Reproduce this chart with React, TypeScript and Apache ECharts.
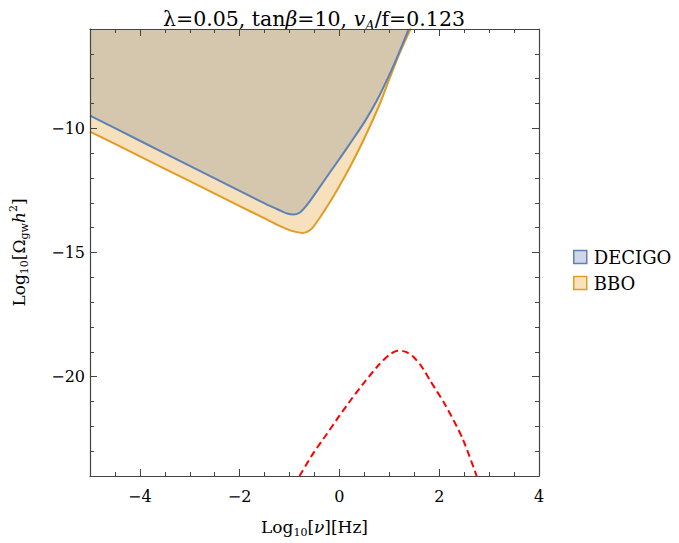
import React, { useEffect, useRef } from "react";
import * as echarts from "echarts";

// Tick values
const xMajorTicks = [-4, -2, 0, 2, 4];
const yMajorTicks = [-20, -15, -10];

// DECIGO sensitivity curve (log10 f, log10 Ωh²)
const decigoX = [-5, -4, -3, -2, -1.5, -1.2, -1.05, -0.92, -0.8, -0.7, -0.6, -0.4, -0.2, 0, 0.25, 0.5, 0.75, 1.0, 1.2, 1.39];
const decigoY = [-9.49, -10.5, -11.51, -12.52, -13.02, -13.3, -13.43, -13.47, -13.4, -13.2, -12.95, -12.38, -11.8, -11.23, -10.5, -9.75, -8.88, -7.85, -6.93, -6.0];

// BBO sensitivity curve
const bboX = [-5, -4, -3, -2, -1.5, -1.2, -1.0, -0.85, -0.75, -0.65, -0.55, -0.4, -0.2, 0, 0.2, 0.5, 0.8, 1.0, 1.2, 1.43];
const bboY = [-10.13, -11.13, -12.13, -13.13, -13.63, -13.93, -14.1, -14.18, -14.21, -14.17, -14.03, -13.62, -13.0, -12.32, -11.6, -10.4, -9.06, -8.02, -7.0, -5.98];

// GW signal spectrum (red dashed)
const signalX = [-0.8, -0.53, -0.25, 0, 0.25, 0.53, 0.8, 1.0, 1.17, 1.33, 1.47, 1.65, 1.8, 2.13, 2.47, 2.75];
const signalY = [-24, -23.1, -22.3, -21.57, -20.88, -20.15, -19.5, -19.12, -18.96, -19.0, -19.18, -19.6, -20.1, -21.17, -22.5, -24];

const FONT = "DejaVu Serif";
const zip = (xs: number[], ys: number[]) => xs.map((x, i) => [x, ys[i]]);
const minus = (v: number) => (v < 0 ? "\u2212" + Math.abs(v) : String(v));

export default function App() {
  const ref = useRef<HTMLDivElement>(null);
  useEffect(() => {
    document.body.style.margin = "0";
    const chart = echarts.init(ref.current!, null, { renderer: "svg" });
    const axisColor = "#444";
    const baseX = { type: "value", min: -5, max: 4, z: 10, splitLine: { show: false } };
    const baseY = { type: "value", min: -24, max: -6, z: 10, splitLine: { show: false } };
    const txt = { fontFamily: FONT, color: "#000", fontWeight: "normal" };
    const richMain = {
      n: { ...txt, fontSize: 17, lineHeight: 22, verticalAlign: "middle" },
      i: { ...txt, fontSize: 17, fontStyle: "italic", lineHeight: 22, verticalAlign: "middle" },
      s: { ...txt, fontSize: 11, lineHeight: 11, verticalAlign: "bottom" },
      sup: { ...txt, fontSize: 11, lineHeight: 11, verticalAlign: "top" },
    };
    const line = (show: boolean) => ({ show, onZero: false, lineStyle: { color: axisColor, width: 1.2 } });
    const tick = (length: number, customValues?: number[]) => ({
      show: true, inside: true, length, lineStyle: { color: axisColor, width: 1 },
      ...(customValues ? { customValues } : {}),
    });
    const option: any = {
      animation: false,
      title: {
        text: "{n|λ=0.05, tan}{i|β}{n|=10, }{i|v}{si|A}{n|/f=0.123}",
        left: 158,
        top: 1,
        textStyle: {
          fontWeight: "normal",
          rich: {
            n: { ...txt, fontSize: 20.5, lineHeight: 26, verticalAlign: "middle" },
            i: { ...txt, fontSize: 20.5, fontStyle: "italic", lineHeight: 26, verticalAlign: "middle" },
            si: { ...txt, fontSize: 13, fontStyle: "italic", lineHeight: 13, verticalAlign: "bottom" },
          },
        },
      },
      legend: {
        orient: "vertical",
        left: 568,
        top: 243,
        itemWidth: 13,
        itemHeight: 13,
        itemGap: 8,
        icon: "rect",
        textStyle: { ...txt, fontSize: 18, padding: [0, 0, 0, 2] },
        data: [
          { name: "DECIGO", itemStyle: { color: "#cdd7e9", borderColor: "#5e81b5", borderWidth: 1.5 } },
          { name: "BBO", itemStyle: { color: "#f8e2bc", borderColor: "#e19c24", borderWidth: 1.5 } },
        ],
      },
      grid: { left: 90, top: 29, right: 140, bottom: 66, show: false },
      xAxis: [
        {
          ...baseX,
          position: "bottom",
          interval: 0.5,
          axisLine: line(true),
          axisTick: tick(4),
          axisLabel: {
            ...txt, fontSize: 16, margin: 12,
            formatter: (v: number) => (xMajorTicks.includes(v) ? minus(v) : ""),
          },
          name: "{n|Log}{s|10}{n|[}{i|ν}{n|][Hz]}",
          nameLocation: "middle",
          nameGap: 40,
          nameTextStyle: { rich: richMain },
        },
        {
          ...baseX,
          position: "bottom",
          axisLine: line(false),
          axisTick: tick(7, xMajorTicks),
          axisLabel: { show: false },
        },
        {
          ...baseX,
          position: "top",
          interval: 0.5,
          axisLine: line(true),
          axisTick: tick(4),
          axisLabel: { show: false },
        },
        {
          ...baseX,
          position: "top",
          axisLine: line(false),
          axisTick: tick(7, xMajorTicks),
          axisLabel: { show: false },
        },
      ],
      yAxis: [
        {
          ...baseY,
          position: "left",
          interval: 1,
          axisLine: line(true),
          axisTick: tick(4),
          axisLabel: {
            ...txt, fontSize: 16, margin: 5,
            formatter: (v: number) => (yMajorTicks.includes(v) ? minus(v) : ""),
          },
          name: "{n|Log}{s|10}{n|[Ω}{s|gw}{i|h}{sup|2}{n|]}",
          nameLocation: "middle",
          nameGap: 60,
          nameRotate: 90,
          nameTextStyle: { rich: richMain },
        },
        {
          ...baseY,
          position: "left",
          axisLine: line(false),
          axisTick: tick(7, yMajorTicks),
          axisLabel: { show: false },
        },
        {
          ...baseY,
          position: "right",
          interval: 1,
          axisLine: line(true),
          axisTick: tick(4),
          axisLabel: { show: false },
        },
        {
          ...baseY,
          position: "right",
          axisLine: line(false),
          axisTick: tick(7, yMajorTicks),
          axisLabel: { show: false },
        },
      ],
      series: [
        {
          name: "BBO",
          type: "line",
          data: zip(bboX, bboY),
          showSymbol: false,
          smooth: 0.25,
          z: 1,
          lineStyle: { color: "#e19c24", width: 2 },
          itemStyle: { color: "#e19c24" },
          areaStyle: { origin: "end", color: "#f7e1bc", opacity: 1 },
        },
        {
          name: "DECIGO",
          type: "line",
          data: zip(decigoX, decigoY),
          showSymbol: false,
          smooth: 0.25,
          z: 2,
          lineStyle: { color: "#5e81b5", width: 2 },
          itemStyle: { color: "#5e81b5" },
          areaStyle: { origin: "end", color: "#d4c7ae", opacity: 1 },
        },
        {
          name: "signal",
          type: "line",
          data: zip(signalX, signalY),
          showSymbol: false,
          smooth: 0.25,
          z: 3,
          lineStyle: { color: "#ff0000", width: 2, type: [7, 4] },
          itemStyle: { color: "#ff0000" },
        },
      ],
    };
    chart.setOption(option);
    return () => chart.dispose();
  }, []);
  return <div ref={ref} style={{ width: 679, height: 543 }} />;
}
